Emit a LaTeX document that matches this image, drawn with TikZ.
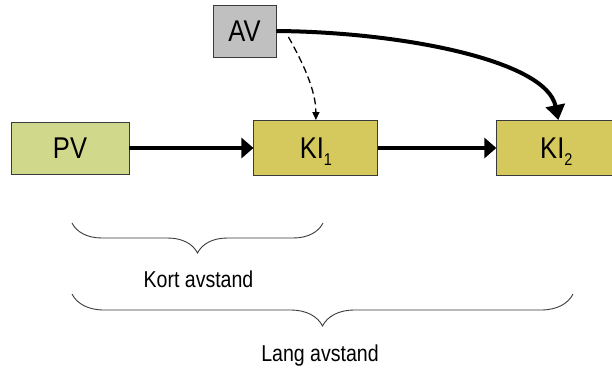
\documentclass[tikz,border=0pt]{standalone}
\usepackage{fontspec}
\setmainfont{Liberation Sans}[FakeStretch=0.85]
\usetikzlibrary{arrows.meta,positioning,calc,decorations.pathreplacing}
\definecolor{pvfill}{HTML}{D0D98B}
\definecolor{kifill}{HTML}{D5C85C}
\definecolor{avfill}{HTML}{C0C0C0}
\definecolor{edge}{HTML}{3A3A3A}
\newcommand{\idx}[1]{\raisebox{-7bp}{\fontsize{17bp}{17bp}\selectfont #1}}
\tikzset{
  varbox/.style={draw=edge, line width=0.9bp, inner sep=0pt, minimum height=52bp,
                 font=\fontsize{30bp}{30bp}\selectfont, text height=21.5bp, text depth=0bp},
  pvbox/.style={varbox, fill=pvfill, minimum width=118bp},
  kibox/.style={varbox, fill=kifill, minimum width=124bp, minimum height=55bp},
  avbox/.style={varbox, fill=avfill, minimum width=63bp},
  arr/.style={-{Triangle[length=12bp,width=20bp]}, line width=3.6bp},
  darr/.style={-{Triangle[length=8bp,width=7bp]}, line width=1.3bp,
               dash pattern=on 7bp off 4bp},
  brc/.style={decorate, decoration={brace, mirror, amplitude=#1}, line width=0.9bp,
              draw=edge},
  lbl/.style={anchor=base, font=\fontsize{23bp}{23bp}\selectfont}}

\begin{document}
\begin{tikzpicture}[x=1bp, y=-1bp]
    \useasboundingbox (0,0) rectangle (612,369);
    \node[pvbox] (pv) at (70,148) {PV};
    \node[kibox, right=124bp of pv] (ki1) {KI\idx{1}};
    \node[kibox, right=118bp of ki1, minimum width=119bp] (ki2) {KI\idx{2}};
    \node[avbox] (av) at (244.5,31) {AV};
    \coordinate (avd) at ($(av.east)+(12,6)$);
    \draw[arr] (pv) -- (ki1);
    \draw[arr] (ki1) -- (ki2);
    \draw[arr, line width=4bp, -{Triangle[length=15bp,width=19bp]}]
      (av.east) .. controls +(124,1) and +(-12,-60) .. ([xshift=2bp]ki2.north);
    \draw[darr] (avd) .. controls +(14,25) and +(0,-30) .. (ki1.north);
    \draw[brc=30bp] (72,223) -- (323,223);
    \draw[brc=32bp] (72,294) -- (573,294);
    \node[lbl] (kort) at (198.5,287) {Kort avstand};
    \node[lbl] (lang) at (320,361) {Lang avstand};
  \end{tikzpicture}
\end{document}
